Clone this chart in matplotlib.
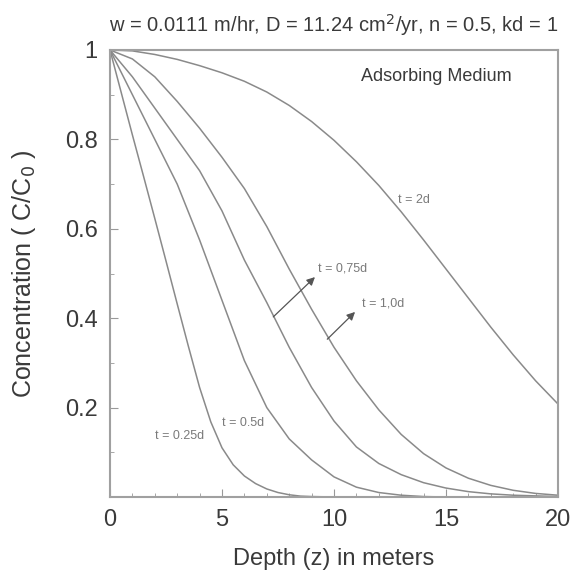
import matplotlib.pyplot as plt

plt.rcParams['font.family'] = ['Liberation Sans', 'DejaVu Sans']

# Valores: profundidade z (m) e concentração C/C0
z_025 = [0, 0.5, 1, 1.5, 2, 2.5, 3, 3.5, 4, 4.5, 5, 5.5, 6, 6.5, 7, 7.5, 8, 8.5, 9, 10, 20]
c_025 = [1.0, 0.905, 0.81, 0.717, 0.623, 0.528, 0.432, 0.337, 0.245, 0.168, 0.11, 0.072, 0.047,
         0.030, 0.018, 0.010, 0.005, 0.002, 0.001, 0, 0]

z_05 = [0, 1, 2, 3, 4, 5, 6, 7, 8, 9, 10, 11, 12, 13, 14, 15, 20]
c_05 = [1.0, 0.90, 0.80, 0.70, 0.575, 0.44, 0.305, 0.20, 0.13, 0.083, 0.045, 0.022, 0.01,
        0.004, 0.001, 0, 0]

z_075 = [0, 1, 2, 3, 4, 5, 6, 7, 8, 9, 10, 11, 12, 13, 14, 15, 16, 17, 18, 20]
c_075 = [1.0, 0.94, 0.87, 0.80, 0.73, 0.64, 0.53, 0.435, 0.335, 0.245, 0.17, 0.112, 0.075,
         0.05, 0.032, 0.02, 0.012, 0.007, 0.004, 0.001]

z_1 = [0, 1, 2, 3, 4, 5, 6, 7, 8, 9, 10, 11, 12, 13, 14, 15, 16, 17, 18, 19, 20]
c_1 = [1.0, 0.98, 0.94, 0.885, 0.825, 0.76, 0.69, 0.605, 0.51, 0.42, 0.335, 0.26, 0.195,
       0.14, 0.097, 0.065, 0.042, 0.026, 0.015, 0.008, 0.004]

z_2 = [0, 1, 2, 3, 4, 5, 6, 7, 8, 9, 10, 11, 12, 13, 14, 15, 16, 17, 18, 19, 20]
c_2 = [1.0, 0.998, 0.99, 0.979, 0.965, 0.949, 0.93, 0.906, 0.876, 0.84, 0.798, 0.75, 0.697,
       0.638, 0.575, 0.51, 0.445, 0.38, 0.318, 0.26, 0.208]

x_ticks = [0, 5, 10, 15, 20]
y_ticks = [0.2, 0.4, 0.6, 0.8, 1.0]
y_tick_labels = ['0.2', '0.4', '0.6', '0.8', '1']

line_color = '#8a8a8a'
text_color = '#3a3a3a'
label_color = '#7a7a7a'

fig = plt.figure(figsize=(5.74, 5.86), dpi=100)
ax = fig.add_axes([110 / 574, 89 / 586, 448 / 574, 447 / 586])

for z, c in [(z_025, c_025), (z_05, c_05), (z_075, c_075), (z_1, c_1), (z_2, c_2)]:
    ax.plot(z, c, color=line_color, lw=1.1)

ax.set_xlim(0, 20)
ax.set_ylim(0, 1)
ax.set_xticks(x_ticks)
ax.set_xticks(range(0, 21), minor=True)
ax.set_yticks(y_ticks)
ax.set_yticklabels(y_tick_labels)
ax.set_yticks([i / 10 for i in range(1, 10)], minor=True)
ax.tick_params(which='both', direction='in', colors='#999999', labelcolor=text_color)
ax.tick_params(which='major', length=6, labelsize=17, pad=9)
ax.tick_params(which='minor', length=3)
for s in ax.spines.values():
    s.set_color('#a0a0a0')
    s.set_linewidth(1.5)

ax.set_xlabel('Depth (z) in meters', fontsize=17, color=text_color, labelpad=12)
ax.set_ylabel('Concentration ( C/C$_0$ )', fontsize=18, color=text_color)
ax.yaxis.set_label_coords(-0.16, 0.5)
ax.set_title('w = 0.0111 m/hr, D = 11.24 cm$^2$/yr, n = 0.5, kd = 1',
             fontsize=14.5, color=text_color, pad=13, x=0.5)

ax.text(11.2, 0.94, 'Adsorbing Medium', fontsize=13, color=text_color, va='center')

# Rótulos das curvas
ax.text(12.85, 0.665, 't = 2d', fontsize=9, color=label_color, va='center')
ax.text(9.3, 0.511, 't = 0,75d', fontsize=9, color=label_color, va='center')
ax.text(11.25, 0.433, 't = 1,0d', fontsize=9, color=label_color, va='center')
ax.text(2.0, 0.136, 't = 0.25d', fontsize=9, color=label_color, va='center')
ax.text(5.0, 0.165, 't = 0.5d', fontsize=9, color=label_color, va='center')

# Setas
arrow = dict(arrowstyle='-|>', color='#555555', lw=0.9, mutation_scale=12, shrinkA=0, shrinkB=0)
ax.annotate('', xy=(9.15, 0.492), xytext=(7.29, 0.403), arrowprops=arrow)
ax.annotate('', xy=(10.94, 0.414), xytext=(9.7, 0.353), arrowprops=arrow)

plt.savefig('out.png')
